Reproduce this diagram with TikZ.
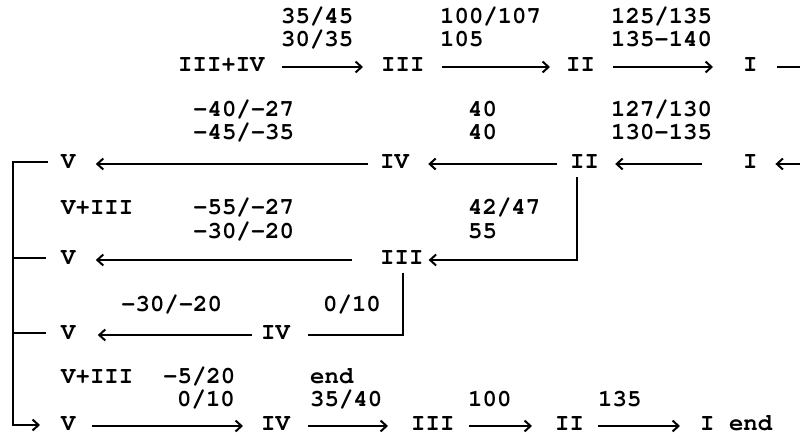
\documentclass[tikz,border=0pt]{standalone}
\usepackage[T1]{fontenc}
\usepackage{courier}
\usetikzlibrary{arrows.meta}
\begin{document}
\begin{tikzpicture}[x=1pt,y=-1pt,
  txt/.style={anchor=west,inner sep=0pt,text height=13.5pt,text depth=0pt,
    font=\fontsize{24}{24}\selectfont\ttfamily\bfseries},
  conn/.style={line width=2.2pt},
  arr/.style={conn,-{Straight Barb[length=6pt,width=11pt,line width=2pt]}}]
\useasboundingbox (0,0) rectangle (800,441);
% ---------- row 1
\node[txt] (a1) at (178,65) {III+IV};
\node[txt] (b1) at (381,65) {III};
\node[txt] (c1) at (566,65) {II};
\node[txt] (d1) at (743,65) {I};
\coordinate (e1) at (800,67);
\node[txt] (l1a) at (281,17) {35/45};
\node[txt] (l1b) at (281,40) {30/35};
\node[txt] (l1c) at (440,17) {100/107};
\node[txt] (l1d) at (440,40) {105};
\node[txt] (l1e) at (611,17) {125/135};
\node[txt] (l1f) at (611,40) {135-140};
\draw[arr] ([shift={(17.6,2)}]a1.east) -- ([shift={(-18,2)}]b1.west);
\draw[arr] ([shift={(17.8,2)}]b1.east) -- ([shift={(-16,2)}]c1.west);
\draw[arr] ([shift={(18.2,2)}]c1.east) -- ([shift={(-30,2)}]d1.west);
\draw[conn] ([shift={(19.6,2)}]d1.east) -- (e1);
% ---------- row 2
\node[txt] (v2) at (61,162) {V};
\node[txt] (iv2) at (380,162) {IV};
\node[txt] (ii2) at (570,162) {II};
\node[txt] (i2) at (743,162) {I};
\coordinate (e2) at (800,164);
\node[txt] (l2a) at (193,110) {-40/-27};
\node[txt] (l2b) at (193,133) {-45/-35};
\node[txt] (l2c) at (468,110) {40};
\node[txt] (l2d) at (468,133) {40};
\node[txt] (l2e) at (611,110) {127/130};
\node[txt] (l2f) at (611,133) {130-135};
\draw[arr] (e2) -- ([shift={(17.6,2)}]i2.east);
\draw[arr] ([shift={(-41,2)}]i2.west) -- ([shift={(16,2)}]ii2.east);
\draw[arr] ([shift={(-13,2)}]ii2.west) -- ([shift={(19,2)}]iv2.east);
\draw[arr] ([shift={(-12,2)}]iv2.west) -- ([shift={(20,2)}]v2.east);
% ---------- row 3
\node[txt] (vi3) at (61,208) {V+III};
\node[txt] (l3a) at (193,208) {-55/-27};
\node[txt] (l3b) at (193,232) {-30/-20};
\node[txt] (l3c) at (468,208) {42/47};
\node[txt] (l3d) at (468,232) {55};
\node[txt] (v3) at (61,258) {V};
\node[txt] (iii3) at (380,258) {III};
\draw[arr] ([shift={(-28,2)}]iii3.west) -- ([shift={(20,2)}]v3.east);
\draw[arr] ([shift={(-7.4,8)}]ii2.south) |- ([shift={(5,2)}]iii3.east);
% ---------- row 4
\node[txt] (l4a) at (121,305) {-30/-20};
\node[txt] (l4b) at (323,305) {0/10};
\node[txt] (v4) at (61,333) {V};
\node[txt] (iv4) at (261,333) {IV};
\draw[arr] ([shift={(-9,2)}]iv4.west) -- ([shift={(22,2)}]v4.east);
\draw[conn] ([shift={(1.4,8)}]iii3.south) |- ([shift={(18,2)}]iv4.east);
% ---------- row 5
\node[txt] (vi5) at (61,377) {V+III};
\node[txt] (l5a) at (163,377) {-5/20};
\node[txt] (l5b) at (177,400) {0/10};
\node[txt] (l5c) at (310,377) {end};
\node[txt] (l5d) at (310,400) {35/40};
\node[txt] (l5e) at (468,400) {100};
\node[txt] (l5f) at (598,400) {135};
\node[txt] (v5) at (61,424) {V};
\node[txt] (iv5) at (261,424) {IV};
\node[txt] (iii5) at (411,424) {III};
\node[txt] (ii5) at (555,424) {II};
\node[txt] (i5) at (700,424) {I end};
\draw[arr] ([shift={(16.6,2)}]v5.east) -- ([shift={(-18,2)}]iv5.west);
\draw[arr] ([shift={(18,2)}]iv5.east) -- ([shift={(-23,2)}]iii5.west);
\draw[arr] ([shift={(14,2)}]iii5.east) -- ([shift={(-23,2)}]ii5.west);
\draw[arr] ([shift={(14,2)}]ii5.east) -- ([shift={(-20,2)}]i5.west);
% ---------- left bracket
\draw[arr] ([shift={(-13,0)}]v2.west) -- ++(-35,0) |- ([shift={(-21,1)}]v5.west);
\draw[conn] ([shift={(-15,0)}]v3.west) -- ++(-33,0);
\draw[conn] ([shift={(-15,0)}]v4.west) -- ++(-33,0);
\end{tikzpicture}
\end{document}
